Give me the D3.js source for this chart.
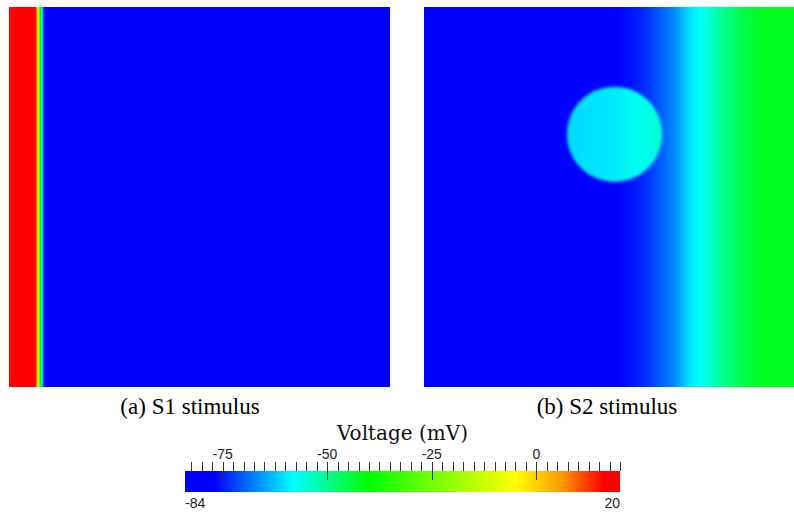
<!DOCTYPE html>
<html>
<head>
<meta charset="utf-8">
<script src="https://cdn.jsdelivr.net/npm/d3@7"></script>
<style>
  body { margin: 0; background: white; }
  svg { display: block; }
</style>
</head>
<body>
<main></main>
<script>
// colormap (voltage -> colour)
const cmapValues = [-84, -77, -58, -40, -22, -5, 6, 16, 20];
const cmapColors = ['#0000ff', '#0000ff', '#00ffff', '#00ff00', '#88ff00', '#ffff00', '#ff9900', '#ff0000', '#ff0000'];

// S1: voltage along the tissue width (percent) -> mV
const s1Pos = [0, 6.8, 7.1, 7.35, 7.6, 8.0, 8.27, 8.66, 9.05, 9.45, 100];
const s1Volt = [20, 20, 12, 6, -5, -28, -40, -58, -72, -84, -84];

// S2: background wave profile
const s2Pos = [0, 51.4, 57.7, 65.4, 69.8, 72.4, 78.5, 84, 89, 97, 100];
const s2Volt = [-84, -83, -74, -67, -60, -58, -50, -45, -42, -42, -42];

// S2 stimulus spot (percent of tissue), and its voltage across the spot
const spotCenter = [50, 33.5];
const spotRadius = 12.5;
const spotPos = [0, 50, 75, 100];
const spotVolt = [-61, -59.5, -57, -55];

// colour bar
const barMin = -84;
const barMax = 20;
const barLabels = [-75, -50, -25, 0];
const barMinor = d3.range(-82.5, 20.01, 2.5);

const panelLabels = ['(a) S1 stimulus', '(b) S2 stimulus'];

const width = 794;
const height = 517;
const panelW = 381;
const panelH = 380;
const panelY = 7;
const panelXs = [9, 424];

const color = d3.scaleLinear()
  .domain(cmapValues)
  .range(cmapColors)
  .interpolate(d3.interpolateRgb)
  .clamp(true);

const svg = d3.select('main')
  .append('svg')
  .attr('width', width)
  .attr('height', height);

const defs = svg.append('defs');

const tissueX = d3.scaleLinear().domain([0, 100]).range([0, panelW]);
const tissueY = d3.scaleLinear().domain([0, 100]).range([0, panelH]);

function addGradient(id, pos, volt) {
  const g = defs.append('linearGradient')
    .attr('id', id)
    .attr('x1', '0%').attr('x2', '100%')
    .attr('y1', '0%').attr('y2', '0%');
  g.selectAll('stop')
    .data(pos)
    .enter()
    .append('stop')
    .attr('offset', (d) => `${d}%`)
    .attr('stop-color', (d, i) => color(volt[i]));
}

addGradient('s1grad', s1Pos, s1Volt);
addGradient('s2grad', s2Pos, s2Volt);
addGradient('spotgrad', spotPos, spotVolt);

defs.append('filter')
  .attr('id', 'soft')
  .attr('x', '-20%').attr('y', '-20%')
  .attr('width', '140%').attr('height', '140%')
  .append('feGaussianBlur')
  .attr('stdDeviation', 1.6);

// panels
const p1 = svg.append('g').attr('transform', `translate(${panelXs[0]}, ${panelY})`);
p1.append('rect')
  .attr('width', tissueX(100))
  .attr('height', tissueY(100))
  .attr('fill', 'url(#s1grad)');

const p2 = svg.append('g').attr('transform', `translate(${panelXs[1]}, ${panelY})`);
p2.append('rect')
  .attr('width', tissueX(100))
  .attr('height', tissueY(100))
  .attr('fill', 'url(#s2grad)');
p2.append('circle')
  .attr('cx', tissueX(spotCenter[0]))
  .attr('cy', tissueY(spotCenter[1]))
  .attr('r', tissueX(spotRadius))
  .attr('fill', 'url(#spotgrad)')
  .attr('filter', 'url(#soft)');

// captions
svg.selectAll('.caption')
  .data(panelLabels)
  .enter()
  .append('text')
  .attr('class', 'caption')
  .attr('x', (d, i) => [190, 607][i])
  .attr('y', 414)
  .attr('text-anchor', 'middle')
  .style('font-family', '"Liberation Serif", "Times New Roman", serif')
  .style('font-size', '23px')
  .text((d) => d);

// colour bar
const barX = 185;
const barW = 435;
const barY = 471;
const barH = 21;

const barScale = d3.scaleLinear().domain([barMin, barMax]).range([barX, barX + barW]);

const barGrad = defs.append('linearGradient')
  .attr('id', 'bargrad')
  .attr('x1', '0%').attr('x2', '100%')
  .attr('y1', '0%').attr('y2', '0%');
barGrad.selectAll('stop')
  .data(cmapValues)
  .enter()
  .append('stop')
  .attr('offset', (d) => `${(d - barMin) / (barMax - barMin) * 100}%`)
  .attr('stop-color', (d) => color(d));

svg.append('rect')
  .attr('x', barX)
  .attr('y', barY)
  .attr('width', barW)
  .attr('height', barH)
  .attr('fill', 'url(#bargrad)');

svg.append('g')
  .selectAll('line')
  .data(barMinor)
  .enter()
  .append('line')
  .attr('x1', (d) => Math.round(barScale(d)) + 0.5)
  .attr('x2', (d) => Math.round(barScale(d)) + 0.5)
  .attr('y1', 462)
  .attr('y2', (d) => barLabels.includes(d) ? 480 : 471)
  .attr('stroke', '#333')
  .attr('stroke-width', 1);

const sans = '"Liberation Sans", Arial, sans-serif';

svg.append('g')
  .selectAll('text')
  .data(barLabels)
  .enter()
  .append('text')
  .attr('x', (d) => barScale(d))
  .attr('y', 459)
  .attr('text-anchor', 'middle')
  .style('font-family', sans)
  .style('font-size', '14px')
  .style('fill', '#222')
  .text((d) => d);

svg.append('text')
  .attr('x', barX)
  .attr('y', 508)
  .style('font-family', sans)
  .style('font-size', '14px')
  .style('fill', '#222')
  .text(barMin);

svg.append('text')
  .attr('x', barX + barW)
  .attr('y', 508)
  .attr('text-anchor', 'end')
  .style('font-family', sans)
  .style('font-size', '14px')
  .style('fill', '#222')
  .text(barMax);

svg.append('text')
  .attr('x', barX + barW / 2)
  .attr('y', 440)
  .attr('text-anchor', 'middle')
  .style('font-family', '"DejaVu Serif", serif')
  .style('font-size', '20px')
  .style('fill', '#111')
  .text('Voltage (mV)');
</script>
</body>
</html>
